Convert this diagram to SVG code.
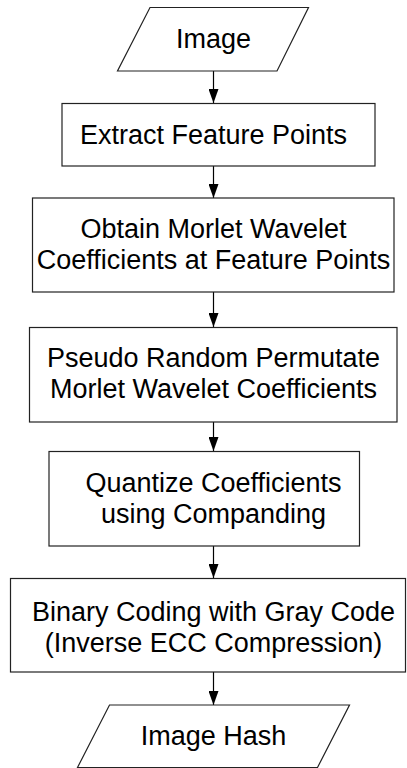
<svg xmlns="http://www.w3.org/2000/svg" width="407" height="768" viewBox="0 0 407 768">
<style>
.shape{fill:#fff;stroke:#222;stroke-width:1.2}
.lbl{font-family:"Liberation Sans",Arial,sans-serif;font-size:27px;fill:#000;text-anchor:middle}
.conn{stroke:#000;stroke-width:1.2;fill:none}
</style>
<defs>
<marker id="arr" markerWidth="14" markerHeight="10" refX="14" refY="5" orient="auto" markerUnits="userSpaceOnUse" viewBox="0 0 14 10">
<path d="M0,0 L14,5 L0,10 Z" fill="#000"/>
</marker>
</defs>
<rect width="407" height="768" fill="#fff"/>
<g id="connectors">
<line class="conn" x1="213.5" y1="71" x2="213.5" y2="103" marker-end="url(#arr)"/>
<line class="conn" x1="213.5" y1="166" x2="213.5" y2="198" marker-end="url(#arr)"/>
<line class="conn" x1="213.5" y1="292" x2="213.5" y2="327" marker-end="url(#arr)"/>
<line class="conn" x1="213.5" y1="422" x2="213.5" y2="451" marker-end="url(#arr)"/>
<line class="conn" x1="213.5" y1="546" x2="213.5" y2="578" marker-end="url(#arr)"/>
<line class="conn" x1="213.5" y1="672" x2="213.5" y2="705" marker-end="url(#arr)"/>
</g>
<g id="n-image">
<polygon class="shape" points="150,7.5 308.5,7.5 277,71 117.5,71"/>
<text class="lbl" x="213.5" y="48">Image</text>
</g>
<g id="n-extract">
<rect class="shape" x="62" y="103.5" width="313" height="62.5"/>
<text class="lbl" x="213.5" y="144">Extract Feature Points</text>
</g>
<g id="n-obtain">
<rect class="shape" x="32.5" y="198" width="361.5" height="94"/>
<text class="lbl" x="213.5" y="238">Obtain Morlet Wavelet</text>
<text class="lbl" x="213.5" y="269">Coefficients at Feature Points</text>
</g>
<g id="n-permute">
<rect class="shape" x="29.5" y="327.5" width="367.5" height="94.5"/>
<text class="lbl" x="213.5" y="367">Pseudo Random Permutate</text>
<text class="lbl" x="213.5" y="398">Morlet Wavelet Coefficients</text>
</g>
<g id="n-quantize">
<rect class="shape" x="49" y="451.5" width="310.5" height="94.5"/>
<text class="lbl" x="213.5" y="492">Quantize Coefficients</text>
<text class="lbl" x="213.5" y="523">using Companding</text>
</g>
<g id="n-binary">
<rect class="shape" x="10.5" y="578.5" width="395" height="93.5"/>
<text class="lbl" x="213.5" y="621">Binary Coding with Gray Code</text>
<text class="lbl" x="213.5" y="652">(Inverse ECC Compression)</text>
</g>
<g id="n-hash">
<polygon class="shape" points="109.5,705 349.5,705 317.5,767.5 77.5,767.5"/>
<text class="lbl" x="213.5" y="745">Image Hash</text>
</g>
</svg>
